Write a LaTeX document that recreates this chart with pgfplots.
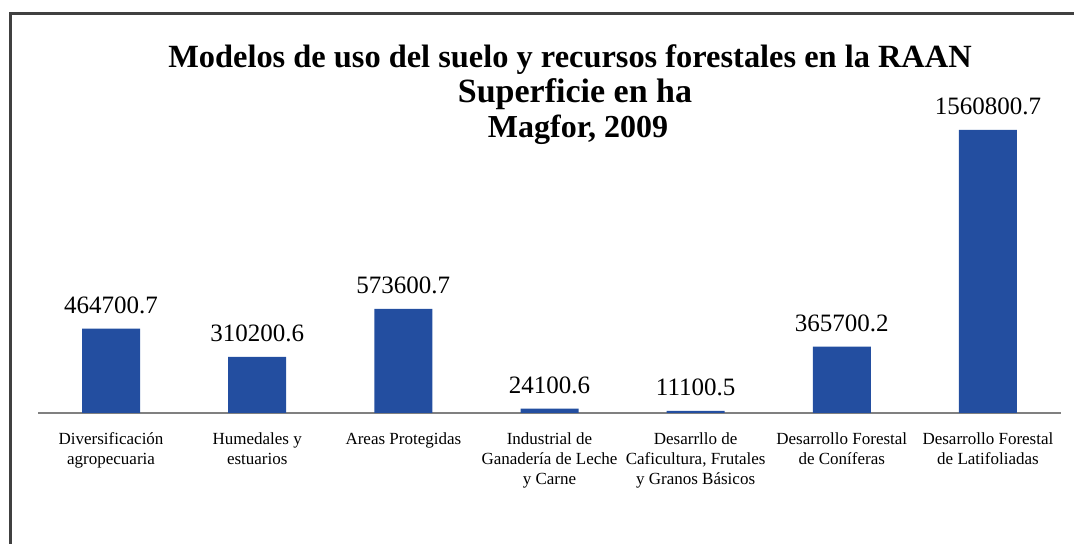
\documentclass[border=0pt]{standalone}
\usepackage{pgfplots}
\pgfplotsset{compat=1.18}
\usepackage{fontspec}
\setmainfont{Liberation Serif}
\definecolor{barblue}{RGB}{35,78,160}
\definecolor{frame}{RGB}{64,64,64}
\begin{document}
\begin{tikzpicture}
\useasboundingbox (0,0) rectangle (537pt,272pt);
\draw[line width=1.5pt, frame] (5pt,0) -- (5pt,265pt) -- (537pt,265pt);
\begin{scope}[every node/.style={anchor=base, inner sep=0pt}]
\node[font=\bfseries\fontsize{16.2}{20}\selectfont] at (285pt,238pt) {Modelos de uso del suelo y recursos forestales en la RAAN};
\node[font=\bfseries\fontsize{17}{20}\selectfont] at (287.5pt,220.5pt) {Superficie en ha};
\node[font=\bfseries\fontsize{16}{20}\selectfont] at (289pt,203pt) {Magfor, 2009};
\end{scope}
\begin{axis}[
  at={(19pt,65.5pt)}, anchor=south west,
  scale only axis, width=511.5pt, height=141.5pt,
  xmin=-0.5, xmax=6.5, ymin=0, ymax=1560800.7,
  clip=false,
  axis x line*=bottom, axis y line=none,
  x axis line style={-, draw=gray, line width=1pt},
  xtick={0,1,2,3,4,5,6},
  major tick length=0pt,
  xticklabels={{Diversificación\\agropecuaria},{Humedales y\\estuarios},{Areas Protegidas},{Industrial de\\Ganadería de Leche\\y Carne},{Desarrllo de\\Caficultura, Frutales\\y Granos Básicos},{Desarrollo Forestal\\de Coníferas},{Desarrollo Forestal\\de Latifoliadas}},
  xticklabel style={align=center, font=\fontsize{8.5}{10}\selectfont, anchor=north, inner sep=0pt, yshift=-9.5pt},
  ybar, bar width=29pt,
  point meta=explicit symbolic,
  nodes near coords,
  every node near coord/.append style={anchor=base, inner sep=0pt, yshift=7.5pt, font=\fontsize{12.5}{14}\selectfont, text=black},
]
\addplot[fill=barblue, draw=none] coordinates {
  (0,464700.7)[464700.7]
  (1,310200.6)[310200.6]
  (2,573600.7)[573600.7]
  (3,24100.6)[24100.6]
  (4,11100.5)[11100.5]
  (5,365700.2)[365700.2]
  (6,1560800.7)[1560800.7]
};
\end{axis}
\end{tikzpicture}
\end{document}
